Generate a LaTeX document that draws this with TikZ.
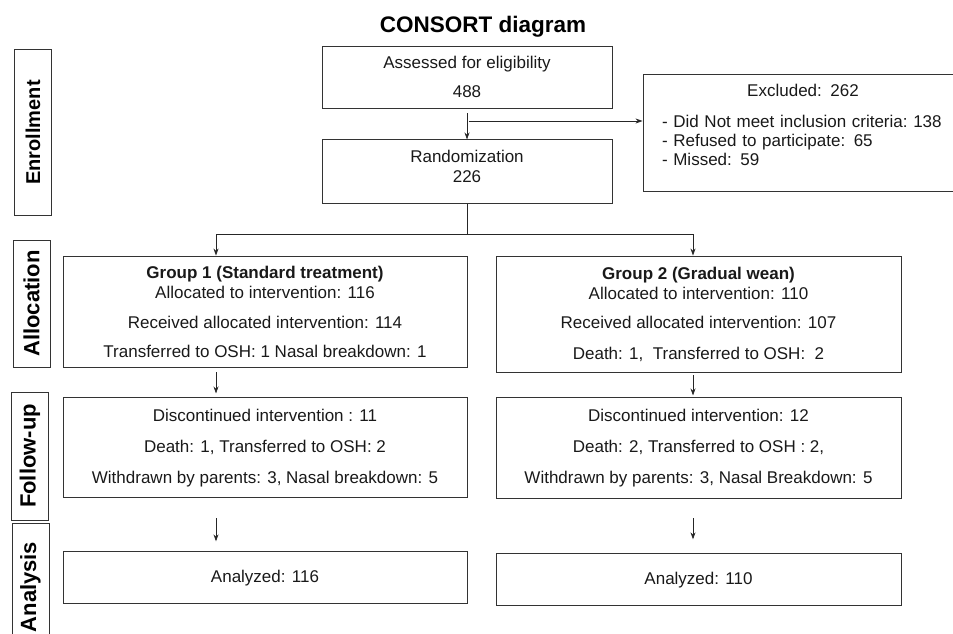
\documentclass[tikz,border=0pt]{standalone}
\usepackage{fontspec}
\setmainfont{Liberation Sans}
\usetikzlibrary{positioning, arrows.meta}
\newcommand\boxfont{\fontsize{17}{20}\selectfont}
\newcommand\phasefont{\fontsize{22}{24}\selectfont\bfseries}
\tikzset{
    >=Stealth,
    box/.style={draw=black!80, line width=0.9pt, align=center, inner sep=0pt, font=\boxfont, text=black!90},
    phase/.style={draw=black!80, line width=0.9pt, rotate=90, inner sep=0pt, minimum height=37pt, font=\phasefont},
    flow/.style={-{Stealth[length=7pt,width=5pt]}, draw=black!85, line width=0.8pt}
}

\begin{document}
\begin{tikzpicture}[x=1pt,y=1pt]
        \useasboundingbox (0,0) rectangle (953,-633);
        \clip (0,0) rectangle (953,-633);

        \node[anchor=base, font=\fontsize{22.5}{25}\selectfont\bfseries] (title) at (483,-32) {CONSORT diagram};

        \node[phase, minimum width=166pt, font=\fontsize{20}{22}\selectfont\bfseries] (enrol) at (33,-132.5) {Enrollment};
        \node[phase, minimum width=127pt] (allocl) at (31.5,-303.5) {Allocation};
        \node[phase, minimum width=128pt] (followl) at (30,-456) {Follow-up};
        \node[phase, minimum width=128pt] (anal) at (30.5,-587) {Analysis};

        \node[box, minimum width=290pt, minimum height=62pt] (assess) at (467,-77) {Assessed for eligibility\\[9pt]488};
        \node[box, minimum width=290pt, minimum height=64pt, text depth=12pt] (rand) [below=31pt of assess] {Randomization\\226};
        \node[box, align=left, text width=282pt, inner xsep=19pt, minimum height=117pt] (excl) at (803,-132.5)
            {\fontsize{17}{19}\selectfont{\centering Excluded: 262\par}\vspace{12pt}
             - Did Not meet inclusion criteria:\ 138\par
             - Refused to participate: 65\par
             - Missed: 59\par\vspace{16pt}};

        \node[box, minimum width=404pt, minimum height=111pt] (alloc1) at (265,-311.5)
            {\textbf{Group 1 (Standard treatment)}\\Allocated to intervention: 116\\[10pt]Received allocated intervention: 114\\[9pt]Transferred to OSH: 1 Nasal breakdown: 1};
        \node[box, minimum width=405pt, minimum height=116pt] (alloc2) at (698.5,-314)
            {\textbf{Group 2 (Gradual wean)}\\Allocated to intervention: 110\\[9pt]Received allocated intervention: 107\\[11pt]Death: 1,\ \ Transferred to OSH:\ \ 2};

        \node[box, minimum width=404pt, minimum height=100pt] (follow1) [below=30pt of alloc1]
            {Discontinued intervention : 11\\[11pt]Death: 1, Transferred to OSH: 2\\[11pt]Withdrawn by parents: 3, Nasal breakdown: 5};
        \node[box, minimum width=405pt, minimum height=101pt] (follow2) [below=25pt of alloc2]
            {Discontinued intervention: 12\\[11pt]Death: 2, Transferred to OSH : 2,\\[11pt]Withdrawn by parents: 3, Nasal Breakdown: 5};

        \node[box, minimum width=404pt, minimum height=52pt] (result1) [below=53pt of follow1] {Analyzed: 116};
        \node[box, minimum width=405pt, minimum height=52pt] (result2) [below=54pt of follow2] {Analyzed: 110};

        \coordinate (split) at (469,-121);
        \coordinate[below=30pt of rand] (fork);

        \draw[flow, shorten <=5pt] (assess) -- (rand);
        \draw[flow] (split) -- (split -| excl.west);
        \draw[draw=black!85, line width=0.8pt] (rand) -- (fork);
        \draw[flow] (fork) -| ([xshift=-49pt]alloc1.north);
        \draw[flow] (fork) -| ([xshift=-5.5pt]alloc2.north);

        \draw[flow, shorten <=5pt, shorten >=4pt] ([xshift=-49pt]alloc1.south) -- ([xshift=-49pt]follow1.north);
        \draw[flow, shorten <=3pt, shorten >=2pt] ([xshift=-5.5pt]alloc2.south) -- ([xshift=-5.5pt]follow2.north);
        \draw[flow, shorten <=20pt, shorten >=10pt] ([xshift=-49pt]follow1.south) -- ([xshift=-49pt]result1.north);
        \draw[flow, shorten <=19pt, shorten >=14pt] ([xshift=-5.5pt]follow2.south) -- ([xshift=-5.5pt]result2.north);
    \end{tikzpicture}
\end{document}
